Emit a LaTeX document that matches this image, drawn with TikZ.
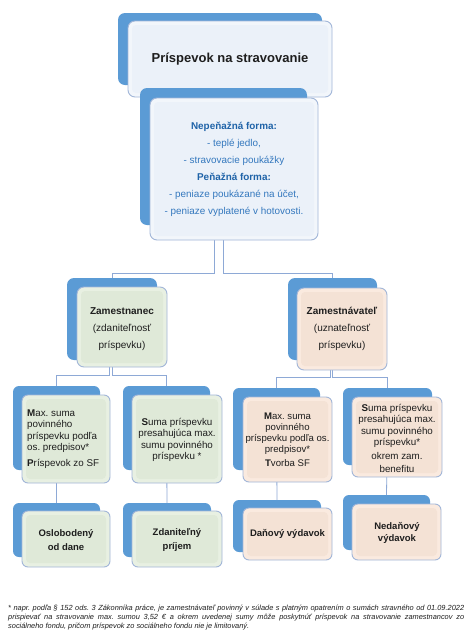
\documentclass[tikz,border=0pt]{standalone}
\usepackage{fontspec}
\setmainfont{Liberation Sans}
\usetikzlibrary{calc}
\frenchspacing
\definecolor{backblue}{HTML}{5B9BD5}
\definecolor{edgecol}{HTML}{A2B6D8}
\definecolor{conncol}{HTML}{8EA9D6}
\definecolor{blueout}{HTML}{F2F6FB}
\definecolor{bluein}{HTML}{EBF1F9}
\definecolor{greenout}{HTML}{E8F0E2}
\definecolor{greenin}{HTML}{DFE9D8}
\definecolor{peachout}{HTML}{FAEADF}
\definecolor{peachin}{HTML}{F4E2D5}
\definecolor{txtblue}{HTML}{3478BE}
\definecolor{headblue}{HTML}{1F63A8}
\definecolor{ink}{HTML}{1E1E1E}
\begin{document}
\begin{tikzpicture}[x=1pt,y=-1pt,
 back/.style={fill=backblue, rounded corners=7pt, inner sep=0pt, outer sep=0pt},
 front/.style n args={2}{draw=edgecol, line width=0.9pt, fill=#1, rounded corners=7pt, inner sep=0pt, outer sep=0pt,
   path picture={\fill[#2, rounded corners=4pt] ([shift={(4pt,-4pt)}]path picture bounding box.north west) rectangle ([shift={(-4pt,4pt)}]path picture bounding box.south east);}},
 conn/.style={draw=conncol, line width=0.8pt},
 lbl/.style={inner sep=0pt, text=ink, align=center},
 small/.style={font=\fontsize{9.8}{11.5}\selectfont},
 leaf/.style={font=\bfseries\fontsize{9.5}{14}\selectfont},
]
\useasboundingbox[fill=white] (0,0) rectangle (474,643);

% title
\node[back, minimum width=204pt, minimum height=72pt] (Tb) at (220,49) {};
\node[front={blueout}{bluein}, minimum width=204pt, minimum height=76pt] (Tf) at (230,59) {};
% forms box back
\node[back, minimum width=167pt, minimum height=137pt] (Fb) at (223.5,156.5) {};
% level 3 backs
\node[back, minimum width=90pt, minimum height=82pt] (Zb) at (112,319) {};
\node[back, minimum width=89pt, minimum height=82pt] (Yb) at (332.5,319) {};
% level 4 backs
\node[back, rounded corners=6pt, minimum width=87pt, minimum height=84pt] (Ab) at (56.5,428) {};
\node[back, rounded corners=6pt, minimum width=87pt, minimum height=84pt] (Bb) at (166.5,428) {};
\node[back, rounded corners=6pt, minimum width=87pt, minimum height=82pt] (Cb) at (276.5,429) {};
\node[back, rounded corners=6pt, minimum width=89pt, minimum height=77pt] (Db) at (387.5,426.5) {};
% level 5 backs
\node[back, rounded corners=6pt, minimum width=87pt, minimum height=54pt] (Eb) at (56.5,530) {};
\node[back, rounded corners=6pt, minimum width=88pt, minimum height=54pt] (Kb) at (167,530) {};
\node[back, rounded corners=6pt, minimum width=88pt, minimum height=52pt] (Gb) at (277,526) {};
\node[back, rounded corners=6pt, minimum width=87pt, minimum height=55pt] (Hb) at (386.5,522.5) {};

% connectors
\draw[conn] ([xshift=-9.5pt]Fb.center) |- ($(Zb.north)+(0,5pt)$) -- (Zb.north);
\draw[conn] (Fb.center) |- ($(Yb.north)+(0,5pt)$) -- (Yb.north);
\draw[conn] ([xshift=-3pt]Zb.center) |- ($(Ab.north)+(0,11pt)$) -- (Ab.north);
\draw[conn] (Zb.center) |- ($(Bb.north)+(0,11pt)$) -- (Bb.north);
\draw[conn] ([xshift=-2.5pt]Yb.center) |- ($(Cb.north)+(0,11pt)$) -- (Cb.north);
\draw[conn] (Yb.center) |- ($(Db.north)+(0,11pt)$) -- (Db.north);
\draw[conn] (Ab.center) -- (Eb.north);
\draw[conn] (Bb.center) -- (Kb.north);
\draw[conn] (Cb.center) -- (Gb.north);
\draw[conn] (Db.center) -- (Hb.north);

% fronts
\node[front={blueout}{bluein}, minimum width=168pt, minimum height=142pt] (Ff) at (234,169) {};
\node[front={greenout}{greenin}, minimum width=90pt, minimum height=80pt] (Zf) at (122,327) {};
\node[front={peachout}{peachin}, minimum width=90pt, minimum height=82pt] (Yf) at (342,329) {};
\node[front={greenout}{greenin}, rounded corners=6pt, minimum width=88pt, minimum height=88pt] (Af) at (66,439) {};
\node[front={greenout}{greenin}, rounded corners=6pt, minimum width=90pt, minimum height=88pt] (Bf) at (177,439) {};
\node[front={peachout}{peachin}, rounded corners=6pt, minimum width=89pt, minimum height=85pt] (Cf) at (287.5,439.5) {};
\node[front={peachout}{peachin}, rounded corners=6pt, minimum width=90pt, minimum height=80pt] (Df) at (397,437) {};
\node[front={greenout}{greenin}, rounded corners=6pt, minimum width=88pt, minimum height=56pt] (Ef) at (66,539) {};
\node[front={greenout}{greenin}, rounded corners=6pt, minimum width=90pt, minimum height=56pt] (Kf) at (177,539) {};
\node[front={peachout}{peachin}, rounded corners=6pt, minimum width=89pt, minimum height=52pt] (Gf) at (287.5,534) {};
\node[front={peachout}{peachin}, rounded corners=6pt, minimum width=89pt, minimum height=56pt] (Hf) at (396.5,532) {};

% texts
\node[lbl, font=\bfseries\fontsize{13}{15}\selectfont] (Tt) at (230,59) {Príspevok na stravovanie};
\node[lbl, text=txtblue, font=\fontsize{9.9}{17}\selectfont] (Ft) at (234,169.5)
 {{\color{headblue}\bfseries Nepeňažná forma:}\\- teplé jedlo,\\- stravovacie poukážky\\{\color{headblue}\bfseries Peňažná forma:}\\- peniaze poukázané na účet,\\- peniaze vyplatené v hotovosti.};
\node[lbl, font=\fontsize{10}{17}\selectfont] (Zt) at (122,329) {\textbf{Zamestnanec}\\(zdaniteľnosť\\príspevku)};
\node[lbl, font=\fontsize{10}{17}\selectfont] (Yt) at (342,329) {\textbf{Zamestnávateľ}\\(uznateľnosť\\príspevku)};
\node[lbl, small, align=left, anchor=west] (At) at (27,439) {\textbf{M}ax. suma\\povinného\\príspevku podľa\\os. predpisov*\\[4pt]\textbf{P}ríspevok zo SF};
\node[lbl, small] (Bt) at (177,440) {\textbf{S}uma príspevku\\presahujúca max.\\sumu povinného\\príspevku *};
\node[lbl, font=\fontsize{9.6}{11}\selectfont] (Ct) at (287.5,439.5) {\textbf{M}ax. suma\\povinného\\príspevku podľa os.\\predpisov*\\[3pt]\textbf{T}vorba SF};
\node[lbl, small] (Dt) at (397,438.5) {\textbf{S}uma príspevku\\presahujúca max.\\sumu povinného\\príspevku*\\[2.5pt]okrem zam.\\[1.5pt]benefitu};
\node[lbl, leaf] (Et) at (66,540) {Oslobodený\\od dane};
\node[lbl, leaf] (Kt) at (177,540) {Zdaniteľný\\príjem};
\node[lbl, leaf] (Gt) at (287.5,534) {Daňový výdavok};
\node[lbl, leaf, font=\bfseries\fontsize{9.5}{12}\selectfont] (Ht) at (397,532.5) {Nedaňový\\výdavok};

% footnote
\node[inner sep=0pt, anchor=north west, text=ink, font=\fontsize{7.4}{9}\selectfont\itshape] (note) at (8,605)
 {\parbox{456pt}{\sloppy\frenchspacing * napr. podľa § 152 ods. 3 Zákonníka práce, je zamestnávateľ povinný v súlade s platným opatrením o sumách stravného od 01.09.2022\linebreak prispievať na stravovanie max. sumou 3,52 € a okrem uvedenej sumy môže poskytnúť príspevok na stravovanie zamestnancov zo\linebreak sociálneho fondu, pričom príspevok zo sociálneho fondu nie je limitovaný.}};
\end{tikzpicture}
\end{document}
